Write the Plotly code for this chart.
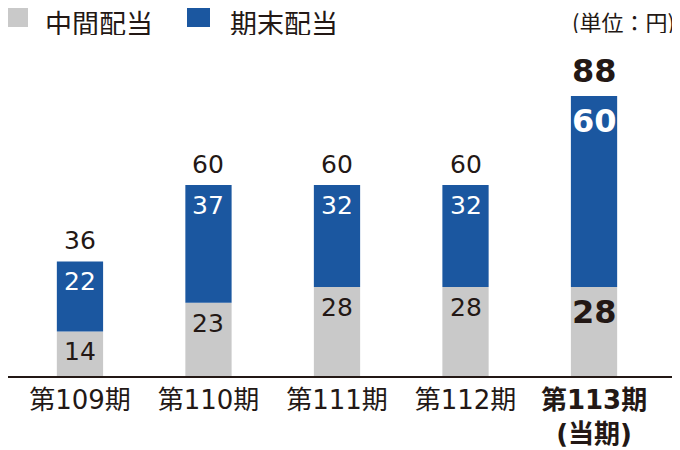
import plotly.graph_objects as go

categories = ["第109期", "第110期", "第111期", "第112期", "第113期"]
tick_labels = ["第109期", "第110期", "第111期", "第112期", "<b>第113期<br>(当期)</b>"]
interim = [14, 23, 28, 28, 28]
year_end = [22, 37, 32, 32, 60]
totals = [36, 60, 60, 60, 88]

GREY = "#c9c9c9"
BLUE = "#1b57a0"
INK = "#231815"
FONT = "Noto Sans CJK JP"
NUMFONT = "DejaVu Sans, Noto Sans CJK JP"

# the page body has an 8px margin, so the figure is 8px smaller than the window
OFF = 8
W, H = 680 - OFF, 450 - OFF
T, B = 40 - OFF, 74
PH = H - T - B


def py(pix):
    """figure pixel row -> paper y"""
    return (H - B - pix) / PH


def px(pix):
    return pix / W


fig = go.Figure()
fig.add_trace(go.Bar(x=categories, y=interim, marker=dict(color=GREY, line=dict(width=0)),
                     width=0.36, name="中間配当", hoverinfo="skip"))
fig.add_trace(go.Bar(x=categories, y=year_end, base=interim, marker=dict(color=BLUE, line=dict(width=0)),
                     width=0.36, name="期末配当", hoverinfo="skip"))

last = len(categories) - 1
for i, c in enumerate(categories):
    bold = i == last
    size = 32 if bold else 25

    def fmt(v):
        return f"<b>{v}</b>" if bold else str(v)
    fig.add_annotation(x=c, y=interim[i], text=fmt(interim[i]), showarrow=False,
                       yanchor="top", yshift=-4, font=dict(size=size, color=INK, family=NUMFONT))
    fig.add_annotation(x=c, y=totals[i], text=fmt(year_end[i]), showarrow=False,
                       yanchor="top", yshift=-4, font=dict(size=size, color="white", family=NUMFONT))
    fig.add_annotation(x=c, y=totals[i], text=fmt(totals[i]), showarrow=False,
                       yanchor="bottom", yshift=4, font=dict(size=size, color=INK, family=NUMFONT))

# legend (manual)
fig.add_shape(type="rect", xref="paper", yref="paper", x0=px(0), x1=px(20), y0=py(19), y1=py(0),
              fillcolor=GREY, line=dict(width=0))
fig.add_annotation(xref="paper", yref="paper", x=px(36), y=py(0), text="中間配当", showarrow=False,
                   xanchor="left", yanchor="top", height=26, valign="middle", borderpad=0,
                   font=dict(size=27, color=INK, family=FONT))
fig.add_shape(type="rect", xref="paper", yref="paper", x0=px(179), x1=px(202), y0=py(19), y1=py(0),
              fillcolor=BLUE, line=dict(width=0))
fig.add_annotation(xref="paper", yref="paper", x=px(221), y=py(0), text="期末配当", showarrow=False,
                   xanchor="left", yanchor="top", height=26, valign="middle", borderpad=0,
                   font=dict(size=27, color=INK, family=FONT))
fig.add_annotation(xref="paper", yref="paper", x=px(668), y=py(0), text="(単位：円)", showarrow=False,
                   xanchor="right", yanchor="top", height=24, valign="middle", borderpad=0,
                   font=dict(size=22, color=INK, family=FONT))

fig.update_layout(
    width=W, height=H,
    margin=dict(l=0, r=0, t=T, b=B, autoexpand=False),
    paper_bgcolor="white", plot_bgcolor="white",
    barmode="overlay", showlegend=False,
    font=dict(family=FONT, color=INK),
)
fig.update_xaxes(range=[-0.560, 4.669], tickmode="array", tickvals=categories, ticktext=tick_labels,
                 tickfont=dict(size=26, color=INK, family=NUMFONT), showline=True, linecolor=INK,
                 linewidth=2, ticks="", showgrid=False, fixedrange=True, automargin=False)
fig.update_yaxes(range=[0, 105.6], visible=False, showgrid=False, fixedrange=True, automargin=False)

fig.write_html("out.html")
